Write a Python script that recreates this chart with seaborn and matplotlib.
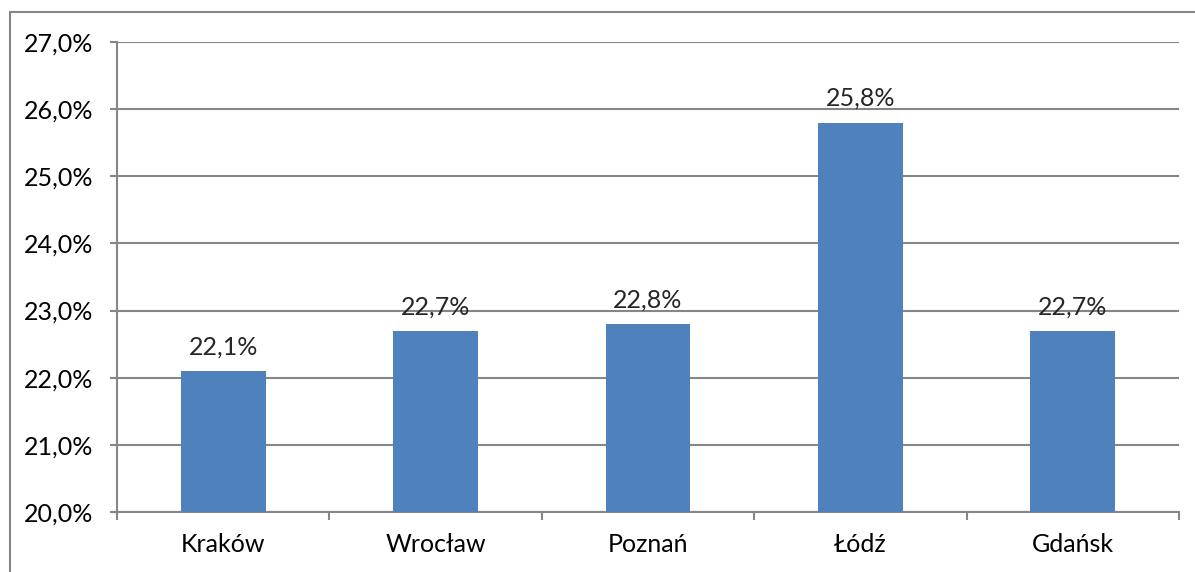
import pandas as pd
import seaborn as sns
import matplotlib.pyplot as plt
from matplotlib.lines import Line2D
from matplotlib.ticker import FixedLocator

cities = ["Kraków", "Wrocław", "Poznań", "Łódź", "Gdańsk"]
values = [22.1, 22.7, 22.8, 25.8, 22.7]
y_ticks = [20, 21, 22, 23, 24, 25, 26, 27]

df = pd.DataFrame({"city": cities, "value": values})

sns.set_theme(style="white")
plt.rcParams["font.family"] = ["Lato", "DejaVu Sans"]

grey = "#868686"
fs = 18
fig = plt.figure(figsize=(11.95, 5.72), dpi=100)
ax = fig.add_axes([117 / 1195, 1 - 512 / 572, 1062 / 1195, 470 / 572])

sns.barplot(data=df, x="city", y="value", color="#4F81BD", width=0.4,
            saturation=1, linewidth=0, ax=ax, zorder=3)

ax.set_ylim(20, 27)
ax.set_xlim(-0.5, len(cities) - 0.5)
ax.set_yticks(y_ticks)
ax.set_yticklabels([f"{t:.1f}%".replace(".", ",") for t in y_ticks])
ax.yaxis.grid(True, color=grey, linewidth=1.5, zorder=0)
ax.set_axisbelow(True)
ax.set_xlabel("")
ax.set_ylabel("")

for s in ["top", "right"]:
    ax.spines[s].set_visible(False)
for s in ["left", "bottom"]:
    ax.spines[s].set_color(grey)
    ax.spines[s].set_linewidth(1.5)

# podziałki osi X na granicach kategorii
ax.xaxis.set_minor_locator(FixedLocator([i - 0.5 for i in range(len(cities) + 1)]))
ax.tick_params(axis="x", which="major", length=0, pad=15, labelsize=fs, colors="black")
ax.tick_params(axis="x", which="minor", bottom=True, length=6, width=1.5, color=grey)
ax.tick_params(axis="y", which="major", left=True, length=5, width=1.5, color=grey,
               pad=12, labelsize=fs, labelcolor="black")

for i, v in enumerate(values):
    ax.annotate(f"{v:.1f}%".replace(".", ","), (i, v), xytext=(0, 9),
                textcoords="offset points", ha="center", va="bottom", fontsize=fs)

# ramka wykresu (widoczna tylko z lewej i u góry)
fig.add_artist(Line2D([10 / 1195, 10 / 1195], [0, 1 - 12 / 572], color=grey, lw=1.5,
                      transform=fig.transFigure))
fig.add_artist(Line2D([10 / 1195, 1], [1 - 12 / 572, 1 - 12 / 572], color=grey, lw=1.5,
                      transform=fig.transFigure))

fig.savefig("out.png", dpi=100)
